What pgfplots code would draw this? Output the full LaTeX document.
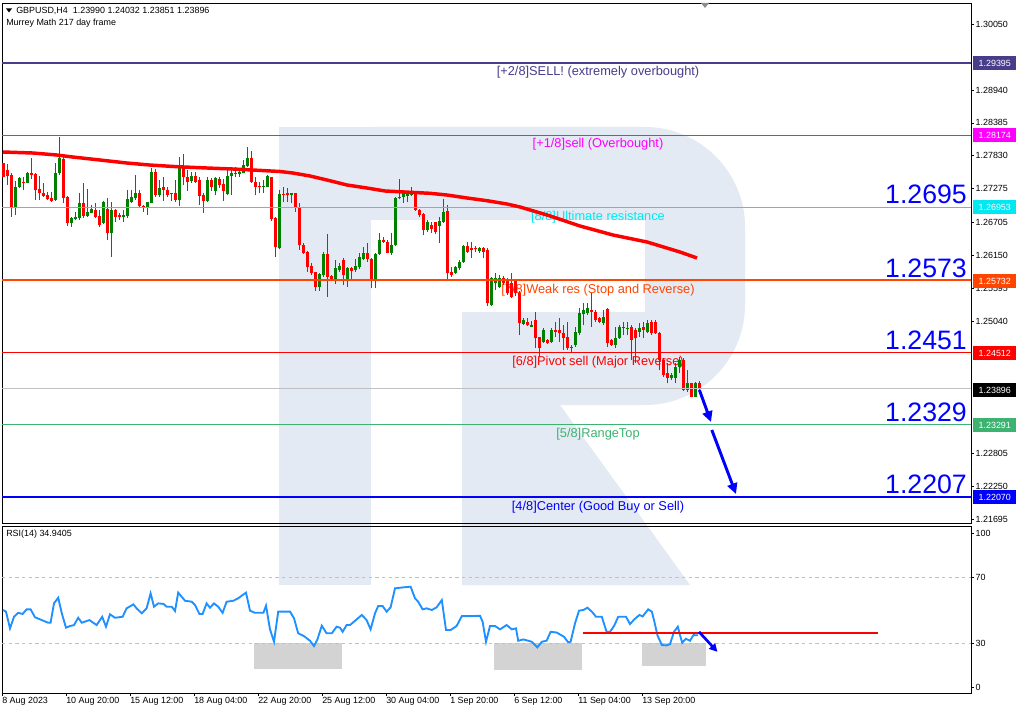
\documentclass[border=0pt]{standalone}
\usepackage{fontspec}
\setmainfont{Liberation Sans}
\usepackage{pgfplots}
\usepackage{pgfplotstable}
\pgfplotsset{compat=1.18}
\usetikzlibrary{arrows.meta}

\definecolor{cgreen}{HTML}{008000}
\definecolor{cred}{HTML}{FF0000}
\definecolor{slate}{HTML}{483D8B}
\definecolor{lmag}{HTML}{FF00FF}
\definecolor{lcyan}{HTML}{00E8F2}
\definecolor{lorange}{HTML}{FF4500}
\definecolor{lsea}{HTML}{3CB371}
\definecolor{lblue}{HTML}{0000FF}
\definecolor{rsiblue}{HTML}{1E90FF}
\definecolor{wm}{HTML}{E4EAF3}
\definecolor{boxgrey}{HTML}{D3D3D3}
\definecolor{lvgrey}{HTML}{C0C0C0}

\newcommand\sm{\fontsize{6.7}{8}\selectfont}
\newcommand\lv{\fontsize{9.6}{11}\selectfont}

% GBPUSD H4 candles, bar index i, open high low close
\pgfplotstableread{
i o h l c
3 1.26942 1.27408 1.26830 1.27297
4 1.27307 1.27476 1.27280 1.27449
6 1.27374 1.27560 1.27364 1.27533
13 1.27082 1.27702 1.27070 1.27533
14 1.27533 1.28151 1.27505 1.27786
17 1.26689 1.26791 1.26632 1.26774
18 1.26757 1.26885 1.26745 1.26791
19 1.26774 1.27195 1.26745 1.27036
21 1.26818 1.27263 1.26801 1.26885
22 1.26868 1.26998 1.26858 1.26925
25 1.26689 1.27070 1.26672 1.27053
27 1.26530 1.27053 1.26126 1.26914
30 1.26791 1.26914 1.26716 1.26830
31 1.26813 1.27251 1.26774 1.27094
32 1.27053 1.27251 1.27026 1.27138
33 1.27111 1.27505 1.27082 1.27205
36 1.26942 1.27053 1.26830 1.27053
37 1.27036 1.27618 1.27026 1.27560
39 1.27167 1.27420 1.27138 1.27280
42 1.27178 1.27205 1.27070 1.27205
44 1.27082 1.27813 1.26981 1.27657
47 1.27408 1.27560 1.27364 1.27488
51 1.27065 1.27476 1.27053 1.27420
53 1.27239 1.27476 1.27167 1.27449
56 1.27178 1.27618 1.27167 1.27488
57 1.27488 1.27601 1.27167 1.27543
59 1.27521 1.27601 1.27476 1.27560
60 1.27543 1.27758 1.27533 1.27674
61 1.27657 1.27982 1.27645 1.27786
65 1.27297 1.27420 1.27195 1.27319
66 1.27307 1.27505 1.27297 1.27488
69 1.26267 1.27251 1.26250 1.27184
72 1.27167 1.27205 1.27026 1.27195
79 1.25619 1.25845 1.25551 1.25833
80 1.25817 1.26210 1.25788 1.26171
83 1.25732 1.26070 1.25664 1.25930
84 1.25901 1.26014 1.25872 1.25969
86 1.25732 1.25957 1.25619 1.25930
88 1.25901 1.26082 1.25872 1.25969
89 1.25946 1.26183 1.25913 1.26116
90 1.26082 1.26284 1.26070 1.26193
93 1.25732 1.26183 1.25592 1.26171
94 1.26171 1.26530 1.26154 1.26407
97 1.26193 1.26520 1.26154 1.26323
98 1.26323 1.27138 1.26306 1.27111
99 1.27111 1.27432 1.27094 1.27138
100 1.27128 1.27251 1.27036 1.27195
101 1.27150 1.27222 1.27053 1.27178
102 1.27167 1.27307 1.27150 1.27222
106 1.26576 1.26745 1.26547 1.26716
109 1.26644 1.26801 1.26361 1.26728
110 1.26716 1.27094 1.26689 1.26885
113 1.25845 1.25969 1.25833 1.25946
114 1.25930 1.26070 1.25901 1.26041
115 1.26041 1.26323 1.26024 1.26306
119 1.26227 1.26284 1.26193 1.26267
122 1.25311 1.25783 1.25294 1.25761
123 1.25681 1.25850 1.25563 1.25766
124 1.25619 1.25817 1.25597 1.25761
130 1.24989 1.25091 1.24973 1.25057
132 1.24944 1.25040 1.24939 1.24973
135 1.24691 1.24922 1.24669 1.24888
137 1.24691 1.24917 1.24664 1.24888
143 1.24635 1.24944 1.24607 1.24859
144 1.24842 1.25254 1.24804 1.25170
145 1.25158 1.25339 1.24973 1.25226
146 1.25170 1.25339 1.25142 1.25254
150 1.25001 1.25226 1.24973 1.25113
153 1.24635 1.24944 1.24579 1.24748
154 1.24748 1.24973 1.24737 1.24944
155 1.24917 1.25029 1.24804 1.24944
156 1.24917 1.25029 1.24804 1.24922
159 1.24859 1.25001 1.24775 1.24917
161 1.24859 1.25057 1.24832 1.25001
167 1.24073 1.24162 1.24044 1.24129
168 1.24073 1.24326 1.23988 1.24269
169 1.24269 1.24438 1.24157 1.24382
171 1.23876 1.24213 1.23847 1.23988
173 1.23763 1.24016 1.23752 1.23988
}\up

\pgfplotstableread{
i o h l c
0 1.27702 1.27707 1.27471 1.27476
1 1.27589 1.27690 1.27336 1.27493
2 1.27505 1.27533 1.26801 1.26942
5 1.27391 1.27476 1.27251 1.27364
7 1.27543 1.27786 1.27432 1.27505
8 1.27516 1.27533 1.27082 1.27251
9 1.27263 1.27488 1.27082 1.27195
10 1.27195 1.27364 1.27138 1.27155
11 1.27167 1.27222 1.27082 1.27094
12 1.27111 1.27222 1.27053 1.27070
15 1.27769 1.27825 1.27026 1.27121
16 1.27138 1.27150 1.26644 1.26699
20 1.27036 1.27364 1.26774 1.26813
23 1.26914 1.27036 1.26774 1.26791
24 1.26813 1.26914 1.26632 1.26661
26 1.26925 1.27111 1.26407 1.26530
28 1.26914 1.26925 1.26716 1.26801
29 1.26830 1.26858 1.26745 1.26801
34 1.27205 1.27251 1.26942 1.26981
35 1.26981 1.26998 1.26885 1.26942
38 1.27560 1.27601 1.27138 1.27167
40 1.27307 1.27476 1.27070 1.27251
41 1.27251 1.27297 1.27138 1.27167
43 1.27195 1.27420 1.27053 1.27082
45 1.27645 1.27858 1.27336 1.27476
46 1.27476 1.27589 1.27239 1.27391
48 1.27488 1.27560 1.27374 1.27391
49 1.27420 1.27476 1.26998 1.27155
50 1.27167 1.27195 1.26858 1.27065
52 1.27420 1.27449 1.27234 1.27297
54 1.27432 1.27476 1.27280 1.27336
55 1.27352 1.27432 1.27070 1.27239
58 1.27543 1.27645 1.27476 1.27521
62 1.27786 1.27914 1.27374 1.27391
63 1.27391 1.27476 1.27167 1.27307
64 1.27319 1.27391 1.27195 1.27297
67 1.27476 1.27476 1.26733 1.26757
68 1.26774 1.26791 1.26116 1.26284
70 1.27184 1.27307 1.27053 1.27167
71 1.27195 1.27280 1.27053 1.27167
73 1.27195 1.27195 1.26885 1.26942
74 1.26952 1.27026 1.26239 1.26323
75 1.26323 1.26351 1.26171 1.26183
76 1.26210 1.26227 1.25872 1.25957
77 1.25969 1.26024 1.25817 1.25845
78 1.25872 1.25872 1.25551 1.25619
81 1.26171 1.26509 1.25450 1.25788
82 1.25800 1.25817 1.25720 1.25732
85 1.26070 1.26098 1.25648 1.25817
87 1.25930 1.25957 1.25720 1.25889
91 1.26193 1.26351 1.26041 1.26082
92 1.26082 1.26098 1.25592 1.25732
95 1.26407 1.26463 1.26351 1.26378
96 1.26378 1.26407 1.26183 1.26193
103 1.27195 1.27195 1.26902 1.26914
104 1.26914 1.26925 1.26801 1.26830
105 1.26841 1.26858 1.26492 1.26576
107 1.26661 1.26716 1.26530 1.26588
108 1.26716 1.26716 1.26509 1.26547
111 1.26902 1.26998 1.25743 1.25845
112 1.25872 1.25957 1.25788 1.25817
116 1.26306 1.26378 1.26183 1.26210
117 1.26267 1.26378 1.26098 1.26239
118 1.26267 1.26306 1.26210 1.26250
120 1.26278 1.26284 1.26098 1.26210
121 1.26239 1.26272 1.25294 1.25339
125 1.25761 1.25800 1.25648 1.25676
126 1.25732 1.25761 1.25479 1.25507
127 1.25681 1.25845 1.25423 1.25450
128 1.25732 1.25749 1.25462 1.25512
129 1.25512 1.25546 1.24804 1.25006
131 1.25029 1.25091 1.24956 1.24973
133 1.25057 1.25197 1.24579 1.24748
134 1.24775 1.24775 1.24438 1.24579
136 1.24720 1.24737 1.24652 1.24674
138 1.24888 1.25029 1.24775 1.24859
139 1.24888 1.25086 1.24691 1.24832
140 1.24842 1.24973 1.24551 1.24748
141 1.24775 1.25029 1.24551 1.24579
142 1.24607 1.24635 1.24522 1.24579
147 1.25226 1.25507 1.24944 1.25197
148 1.25197 1.25226 1.25029 1.25057
149 1.25086 1.25113 1.25001 1.25029
151 1.25237 1.25254 1.24607 1.24664
152 1.24720 1.24737 1.24618 1.24635
157 1.24944 1.24973 1.24382 1.24720
158 1.24888 1.24917 1.24326 1.24748
160 1.24944 1.25029 1.24748 1.24888
162 1.25029 1.25057 1.24804 1.24832
163 1.25029 1.25057 1.24820 1.24832
164 1.24842 1.24859 1.24213 1.24382
165 1.24382 1.24416 1.24095 1.24129
166 1.24157 1.24326 1.23988 1.24073
170 1.24382 1.24410 1.23864 1.23876
172 1.23988 1.23999 1.23750 1.23763
174 1.23990 1.24032 1.23851 1.23896
}\dn

\begin{document}
\begin{tikzpicture}
\path[use as bounding box, fill=white] (0,0) rectangle (762pt,536.25pt);

% background watermark and level captions, in pixel units (y downwards)
\begin{scope}[x=0.75pt,y=-0.75pt,yshift=536.25pt]
  \fill[wm] (279,127) rectangle (371,585);
  \fill[wm] (371,127) -- (645,127) .. controls (700,127) and (745,172) .. (745,227)
    -- (745,305) .. controls (745,360) and (700,405) .. (645,405) -- (462,405)
    -- (462,312) -- (645,312) -- (645,220) -- (371,220) -- cycle;
  \fill[wm] (462,405) -- (560,405) -- (690,585) -- (462,585) -- cycle;
  \begin{scope}[every node/.style={font=\lv, inner sep=0pt}]
    \node[text=slate] at (598,72) {[+2/8]SELL! (extremely overbought)};
    \node[text=lmag] at (598,144) {[+1/8]sell (Overbought)};
    \node[text=lcyan] at (598,217) {[8/8]Ultimate resistance};
    \node[text=lorange] at (598,290) {[7/8]Weak res (Stop and Reverse)};
    \node[text=cred] at (598,362) {[6/8]Pivot sell (Major Reverse)};
    \node[text=lsea] at (598,434) {[5/8]RangeTop};
    \node[text=lblue] at (598,507) {[4/8]Center (Good Buy or Sell)};
  \end{scope}
\end{scope}

\begin{axis}[
  at={(1.5pt,144pt)}, anchor=south west,
  width=726.75pt, height=390pt, scale only axis,
  xmin=-0.25, xmax=242, ymin=1.21631, ymax=1.30408,
  xtick=\empty,
  ytick={1.30050,1.28940,1.28385,1.27830,1.27275,1.26705,1.26150,1.25595,1.25040,1.22805,1.22250,1.21695},
  yticklabels={1.30050,1.28940,1.28385,1.27830,1.27275,1.26705,1.26150,1.25595,1.25040,1.22805,1.22250,1.21695},
  ytick pos=right, yticklabel pos=right,
  tick align=outside, major tick length=2.25pt,
  tick style={black, line width=0.5pt},
  axis line style={black, line width=0.75pt},
  yticklabel style={font=\sm, anchor=west, inner sep=0pt, xshift=1pt},
  /pgf/number format/assume math mode=true,
]
% wicks
\addplot[draw=none, mark=none, forget plot, error bars/.cd, y dir=plus, y explicit,
  error mark=none, error bar style={draw=cgreen, line width=0.75pt}]
  table[x=i, y=l, y error plus expr=\thisrow{h}-\thisrow{l}] {\up};
\addplot[draw=none, mark=none, forget plot, error bars/.cd, y dir=plus, y explicit,
  error mark=none, error bar style={draw=cred, line width=0.75pt}]
  table[x=i, y=l, y error plus expr=\thisrow{h}-\thisrow{l}] {\dn};
% bodies
\addplot[draw=none, mark=none, forget plot, error bars/.cd, y dir=plus, y explicit,
  error mark=none, error bar style={draw=cgreen, line width=2.25pt}]
  table[x=i, y=o, y error plus expr=\thisrow{c}-\thisrow{o}] {\up};
\addplot[draw=none, mark=none, forget plot, error bars/.cd, y dir=plus, y explicit,
  error mark=none, error bar style={draw=cred, line width=2.25pt}]
  table[x=i, y=c, y error plus expr=\thisrow{o}-\thisrow{c}] {\dn};

% Murrey Math levels
\addplot[slate, line width=1.2pt] coordinates {(-0.25,1.29395) (242,1.29395)};
\addplot[lmag, line width=1.2pt] coordinates {(-0.25,1.28174) (242,1.28174)};
\addplot[lcyan, line width=1.2pt] coordinates {(-0.25,1.26953) (242,1.26953)};
\addplot[lorange, line width=1.2pt] coordinates {(-0.25,1.25732) (242,1.25732)};
\addplot[cred, line width=1.2pt] coordinates {(-0.25,1.24512) (242,1.24512)};
\addplot[lvgrey, line width=0.6pt] coordinates {(-0.25,1.23896) (242,1.23896)};
\addplot[lsea, line width=1.2pt] coordinates {(-0.25,1.23291) (242,1.23291)};
\addplot[lblue, line width=1.2pt] coordinates {(-0.25,1.22070) (242,1.22070)};

% 217 day moving average
\addplot[cred, line width=2.6pt] coordinates {
(0,1.27893) (7.5,1.27876) (13.5,1.27842) (17.5,1.27808) (24.25,1.27758) (31,1.27707)
(36.75,1.27673) (43.5,1.27645) (51,1.27623) (57.5,1.27606) (62.5,1.27589) (69.25,1.27564)
(72.5,1.27538) (76.75,1.27488) (81,1.27420) (86,1.27336) (91,1.27285) (95.5,1.27235)
(101.75,1.27213) (106.75,1.27196) (111,1.27167) (116,1.27117) (121,1.27071) (126,1.27015)
(129.25,1.26965) (136,1.26830) (144.25,1.26644) (152.5,1.26492) (161,1.26374)
(169.25,1.26205) (173.5,1.26104)};

\draw[lblue, line width=2.2pt, -{Triangle[length=8pt,width=7.5pt]}]
  (axis cs:174.1,1.23876) -- (axis cs:177,1.23336);
\draw[lblue, line width=2.2pt, -{Triangle[length=8pt,width=7.5pt]}]
  (axis cs:177.2,1.23201) -- (axis cs:183.25,1.22120);
\end{axis}

\begin{axis}[
  at={(1.5pt,16.5pt)}, anchor=south west,
  width=726.75pt, height=125.25pt, scale only axis,
  xmin=-0.25, xmax=242, ymin=0, ymax=101,
  xtick={-0.25,15.75,31.75,47.75,63.75,79.75,95.75,111.75,127.75,143.75,159.75},
  xticklabels={8 Aug 2023,10 Aug 20:00,15 Aug 12:00,18 Aug 04:00,22 Aug 20:00,25 Aug 12:00,30 Aug 04:00,1 Sep 20:00,6 Sep 12:00,11 Sep 04:00,13 Sep 20:00},
  ytick={3.4,30,70,96.8}, yticklabels={0,30,70,100},
  xtick pos=left, xticklabel pos=left,
  ytick pos=right, yticklabel pos=right,
  tick align=outside, major tick length=2.25pt,
  tick style={black, line width=0.5pt},
  axis line style={black, line width=0.75pt},
  yticklabel style={font=\sm, anchor=west, inner sep=0pt, xshift=1pt},
  xticklabel style={font=\sm, anchor=north west, inner sep=0pt, yshift=-1pt},
  /pgf/number format/assume math mode=true,
]
\fill[boxgrey] (axis cs:62.75,30) rectangle (axis cs:84.7,14.4);
\fill[boxgrey] (axis cs:122.75,30) rectangle (axis cs:144.7,13.8);
\fill[boxgrey] (axis cs:159.8,30) rectangle (axis cs:175.7,16.4);
\addplot[lvgrey, line width=0.6pt, dash pattern=on 2.5pt off 2.5pt] coordinates {(-0.25,70) (242,70)};
\addplot[lvgrey, line width=0.6pt, dash pattern=on 2.5pt off 2.5pt] coordinates {(-0.25,30) (242,30)};
% RSI(14)
\addplot[rsiblue, line width=1.4pt] coordinates {
(0,50.2) (0.75,49.2) (1.75,39.1) (2.75,46.1) (3.8,48.5) (4.9,47.8) (5.9,50.6) (6.9,50.6)
(8,45.8) (9.7,44.1) (11.3,42.5) (11.9,42.5) (12.75,54.2) (13.8,57.6) (14.7,48.2) (15.75,39.5)
(16.75,40.5) (17.75,41.1) (18.8,45.5) (19.7,42.5) (21.6,44.1) (23.4,41.1) (24.8,46.1)
(25.75,40.1) (26.75,47.6) (28,45.5) (29.9,46.1) (30.9,51.2) (32.6,53.6) (33.4,51.2)
(34.7,48.2) (35.9,51.2) (36.9,60.3) (37.75,52.2) (38.8,54.2) (40.1,53.9) (40.9,52.2)
(42.2,52.2) (43,49.6) (43.8,60.7) (45.5,55.8) (47.2,55.2) (48,53.2) (49.1,47.8) (49.9,47.8)
(50.9,54.2) (51.75,51.6) (52.75,54.2) (53.8,52.2) (54.9,48.5) (55.9,55.2) (57.6,55.8)
(58.8,57.3) (60.75,60.7) (61.75,49.8) (63,48.5) (65.1,48.5) (65.75,52.8) (66.75,38.5)
(67.75,31.0) (68.8,49.2) (71.75,49.2) (72.75,45.2) (73.8,36.1) (75.25,34.4) (76.75,31.6)
(77.75,28.4) (78.6,32.4) (79.7,40.7) (80.9,36.1) (82.2,36.1) (83.4,40.1) (84.25,39.5)
(84.9,37.0) (85.9,41.1) (86.75,41.1) (89.7,47.2) (90.9,44.1) (91.9,38.5) (93,48.2)
(93.8,52.6) (94.9,52.6) (95.9,49.2) (96.9,51.8) (98,63.3) (100.1,63.9) (101.9,64.3)
(103,57.3) (103.8,55.2) (104.9,50.6) (105.9,51.2) (107.2,50.2) (108.4,51.8) (109.7,56.2)
(110.75,38.1) (111.9,38.1) (113.4,40.5) (114.7,46.5) (116.9,46.5) (119.25,46.7) (119.9,43.1)
(120.75,31.0) (121.75,40.5) (123,40.5) (124.25,38.5) (125.9,41.1) (127.2,38.5) (128.25,39.1)
(128.8,31.6) (130.1,32.4) (132.2,31.0) (133.6,27.6) (134.7,31.0) (135.9,31.6) (136.9,37.0)
(138.4,36.6) (140.25,34.0) (141.3,30.6) (141.9,31.0) (143,42.1) (144,49.8) (145.1,50.2)
(146.1,51.6) (147.2,49.2) (148.25,46.1) (149.7,46.1) (150.9,37.0) (151.75,37.0) (152.75,40.5)
(153.8,46.1) (155.75,46.1) (156.75,41.7) (157.8,44.5) (159.1,47.2) (159.9,46.3) (161.3,50.6)
(162.2,49.2) (162.75,44.1) (163.6,35.0) (164.7,29.0) (165.9,28.8) (166.75,29.6) (167.75,37.0)
(168.7,40.1) (169.25,35.0) (169.8,30.4) (170.7,32.8) (171.75,31.6) (172.6,35.0) (173.8,34.9)};
\addplot[cred, line width=1.5pt] coordinates {(144.9,36.4) (218.8,36.4)};
\draw[lblue, line width=2pt, -{Triangle[length=6pt,width=6pt]}]
  (axis cs:174,37.0) -- (axis cs:178.6,24.9);
\end{axis}

% price tags, titles and big level numbers, in pixel units
\begin{scope}[x=0.75pt,y=-0.75pt,yshift=536.25pt]
  \fill[black!45] (701,3) -- (709,3) -- (705,8) -- cycle;
  \fill[black] (6,8.5) -- (12,8.5) -- (9,12.5) -- cycle;
  \node[font=\sm, anchor=west, inner sep=0pt] at (16,10.5) {GBPUSD,H4\ \ 1.23990 1.24032 1.23851 1.23896};
  \node[font=\sm, anchor=west, inner sep=0pt] at (6,23) {Murrey Math 217 day frame};
  \node[font=\sm, anchor=west, inner sep=0pt] at (6,534) {RSI(14) 34.9405};
  \begin{scope}[every node/.style={font=\sm, text=white, anchor=west, minimum width=33pt,
      minimum height=10pt, inner sep=1pt}]
    \node[fill=slate] at (972.5,63) {1.29395};
    \node[fill=lmag] at (972.5,135) {1.28174};
    \node[fill=lcyan] at (972.5,207) {1.26953};
    \node[fill=lorange] at (972.5,281) {1.25732};
    \node[fill=cred] at (972.5,353) {1.24512};
    \node[fill=black] at (972.5,390) {1.23896};
    \node[fill=lsea] at (972.5,425) {1.23291};
    \node[fill=lblue] at (972.5,497) {1.22070};
  \end{scope}
  \begin{scope}[every node/.style={font=\fontsize{20}{22}\selectfont, text=lblue, anchor=base east, inner sep=0pt}]
    \node at (967,203.5) {1.2695};
    \node at (967,277.5) {1.2573};
    \node at (967,349.5) {1.2451};
    \node at (967,421.5) {1.2329};
    \node at (967,493.5) {1.2207};
  \end{scope}
\end{scope}
\end{tikzpicture}
\end{document}
